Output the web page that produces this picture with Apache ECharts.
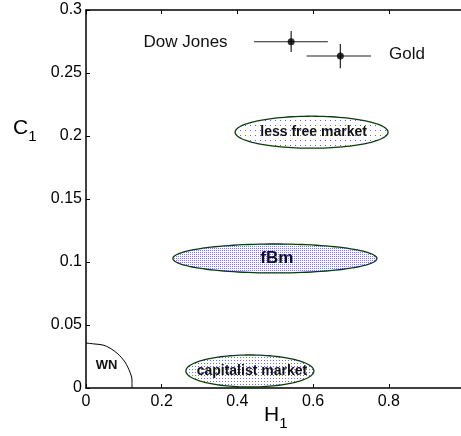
<!DOCTYPE html>
<html><head><meta charset="utf-8">
<script src="https://cdn.jsdelivr.net/npm/echarts@6/dist/echarts.min.js"></script>
<style>html,body{margin:0;padding:0;background:#fff;}#c{width:461px;height:436px;}</style>
</head><body><div id="c"></div>
<script>
// Data (H1, C1)
var pointNames = ['Dow Jones', 'Gold'];
var pointH = [0.542, 0.672];
var pointC = [0.2748, 0.2635];
var errHlo = [0.444, 0.583];
var errHhi = [0.639, 0.753];
var errClo = [0.2667, 0.2537];
var errChi = [0.2833, 0.2730];
var pointLabelH = [0.263, 0.848];
var pointLabelC = [0.2746, 0.2650];

// Regions: ellipses (center H, center C, radius H, radius C)
var regionNames = ['less free market', 'fBm', 'capitalist market'];
var regionH = [0.596, 0.499, 0.433];
var regionC = [0.203, 0.1028, 0.0135];
var regionRH = [0.202, 0.2695, 0.169];
var regionRC = [0.0127, 0.0115, 0.0127];

// White-noise boundary curve
var wnH = [0.0, 0.0238, 0.0449, 0.0634, 0.0845, 0.103, 0.116, 0.1215, 0.1215];
var wnC = [0.0357, 0.0349, 0.0341, 0.0317, 0.027, 0.0206, 0.0127, 0.0063, 0.0];
var wnLabel = ['WN', 0.0542, 0.0177];

var xTicks = [0, 0.2, 0.4, 0.6, 0.8];
var yTicks = [0, 0.05, 0.1, 0.15, 0.2, 0.25, 0.3];

function makePattern(sx, sy, color) {
  var cv = document.createElement('canvas');
  cv.width = sx; cv.height = sy;
  var ctx = cv.getContext('2d');
  ctx.fillStyle = '#ffffff';
  ctx.fillRect(0, 0, sx, sy);
  ctx.fillStyle = color;
  ctx.fillRect(0, 0, 1, 1);
  return cv;
}
var patterns = [makePattern(5, 5, '#5a5aff'), makePattern(2, 2, '#7a7aff'), makePattern(3, 3, '#6a6aff')];
var fontSizes = [14, 17, 14];

var chart = echarts.init(document.getElementById('c'));
var FONT = '"Liberation Sans", Arial, Helvetica, sans-serif';

var ellipseData = regionNames.map(function (n, i) {
  return [regionH[i], regionC[i], regionRH[i], regionRC[i], i];
});
var errData = pointNames.map(function (n, i) {
  return [pointH[i], pointC[i], errHlo[i], errHhi[i], errClo[i], errChi[i]];
});
var wnData = wnH.map(function (h, i) { return [h, wnC[i]]; });
var labelData = pointNames.map(function (n, i) { return [pointLabelH[i], pointLabelC[i], n]; });

var richName = { m: { fontSize: 21, fontFamily: FONT, fill: '#000', lineHeight: 24 }, s: { fontSize: 15, fontFamily: FONT, fill: '#000', padding: [0, 0, -16, 0], lineHeight: 24 } };

chart.setOption({
  animation: false,
  backgroundColor: '#fff',
  grid: { left: 86, top: 10, width: 378.5, bottom: 48, containLabel: false, outerBoundsMode: 'none' },
  xAxis: [{
    type: 'value', min: 0, max: 1, interval: 0.2,
    axisLine: { onZero: false, lineStyle: { color: '#000', width: 1.5 } },
    axisTick: { inside: true, length: 4, lineStyle: { color: '#000', width: 1 } },
    axisLabel: { color: '#000', fontSize: 16, fontFamily: FONT, margin: 6,
      formatter: function (v) { return xTicks.indexOf(Math.round(v * 10) / 10) >= 0 ? String(Math.round(v * 10) / 10) : ''; } },
    splitLine: { show: false }
  }, {
    type: 'value', min: 0, max: 1, interval: 0.2, position: 'top',
    axisLine: { onZero: false, lineStyle: { color: '#000', width: 1.5 } },
    axisTick: { inside: true, length: 4, lineStyle: { color: '#000', width: 1 } },
    axisLabel: { show: false }, splitLine: { show: false }
  }],
  yAxis: [{
    type: 'value', min: 0, max: 0.3, interval: 0.05,
    axisLine: { show: true, onZero: false, lineStyle: { color: '#000', width: 1.5 } },
    axisTick: { show: true, inside: true, length: 4, lineStyle: { color: '#000', width: 1 } },
    axisLabel: { color: '#000', fontSize: 16, fontFamily: FONT, margin: 4,
      formatter: function (v) { var r = Math.round(v * 100) / 100; return String(r); } },
    splitLine: { show: false }
  }],
  graphic: [{
    type: 'text', left: 13, top: 118,
    style: { text: '{m|C}{s|1}', rich: richName }
  }, {
    type: 'text', left: 264, top: 405,
    style: { text: '{m|H}{s|1}', rich: richName }
  }],
  series: [
    {
      type: 'custom', name: 'regions', data: ellipseData, clip: true,
      renderItem: function (params, api) {
        var cx = api.value(0), cy = api.value(1), rx = api.value(2), ry = api.value(3), idx = api.value(4);
        var pts = [];
        for (var k = 0; k < 120; k++) {
          var t = k / 120 * Math.PI * 2;
          pts.push(api.coord([cx + rx * Math.cos(t), cy + ry * Math.sin(t)]));
        }
        var c = api.coord([cx, cy]);
        return {
          type: 'group',
          children: [{
            type: 'polygon', shape: { points: pts },
            style: { fill: { image: patterns[idx], repeat: 'repeat' }, stroke: '#0a3d0a', lineWidth: 1.3 }
          }, {
            type: 'text', x: c[0] + 2, y: c[1],
            style: { text: regionNames[idx], fontSize: fontSizes[idx], fontWeight: 'bold', fontFamily: FONT, fill: '#111', align: 'center', verticalAlign: 'middle' }
          }]
        };
      }
    },
    {
      type: 'line', name: 'WN', data: wnData, smooth: 0.3, symbol: 'none',
      lineStyle: { color: '#000', width: 1 }
    },
    {
      type: 'custom', name: 'WNlabel', data: [[wnLabel[1], wnLabel[2]]],
      renderItem: function (params, api) {
        var c = api.coord([api.value(0), api.value(1)]);
        return { type: 'text', x: c[0], y: c[1], style: { text: wnLabel[0], fontSize: 13, fontWeight: 'bold', fontFamily: FONT, fill: '#111', align: 'center', verticalAlign: 'middle' } };
      }
    },
    {
      type: 'custom', name: 'errorbars', data: errData,
      renderItem: function (params, api) {
        var x = api.value(0), y = api.value(1);
        var a = api.coord([api.value(2), y]), b = api.coord([api.value(3), y]);
        var c = api.coord([x, api.value(4)]), d = api.coord([x, api.value(5)]);
        return { type: 'group', children: [
          { type: 'line', shape: { x1: a[0], y1: a[1], x2: b[0], y2: b[1] }, style: { stroke: '#222', lineWidth: 1.2 } },
          { type: 'line', shape: { x1: c[0], y1: c[1], x2: d[0], y2: d[1] }, style: { stroke: '#222', lineWidth: 1.2 } }
        ] };
      }
    },
    {
      type: 'scatter', name: 'points', data: pointH.map(function (h, i) { return [h, pointC[i]]; }),
      symbol: 'circle', symbolSize: 7, itemStyle: { color: '#000' }
    },
    {
      type: 'custom', name: 'pointLabels', data: labelData,
      renderItem: function (params, api) {
        var c = api.coord([api.value(0), api.value(1)]);
        return { type: 'text', x: c[0], y: c[1], style: { text: labelData[params.dataIndex][2], fontSize: 17, fontFamily: FONT, fill: '#111', align: 'center', verticalAlign: 'middle' } };
      }
    }
  ]
});
</script>
</body></html>
